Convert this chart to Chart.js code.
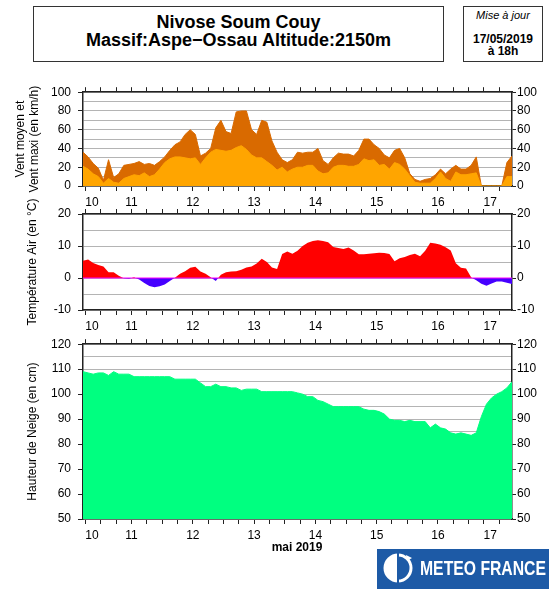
<!DOCTYPE html>
<html>
<head>
<meta charset="utf-8">
<script src="https://cdn.jsdelivr.net/npm/chart.js@4.4.0/dist/chart.umd.min.js"></script>
<style>
  body { margin: 0; width: 549px; height: 589px; position: relative; overflow: hidden; background: #fff;
         font-family: "Liberation Sans", Arial, sans-serif; color: #000; }
  canvas { position: absolute; left: 0; }
  .box { position: absolute; border: 1.5px solid #333; box-sizing: border-box; }
  .txt { position: absolute; line-height: 1; text-align: center; white-space: nowrap; }
</style>
</head>
<body>
<div class="box" style="left:33px;top:6px;width:411px;height:56px;"></div>
<div class="txt" style="left:33px;width:411px;top:12.8px;font-weight:bold;font-size:18px;">Nivose Soum Couy</div>
<div class="txt" style="left:33px;width:411px;top:31.3px;font-weight:bold;font-size:18px;">Massif:Aspe−Ossau Altitude:2150m</div>

<div class="box" style="left:463px;top:6px;width:80px;height:56px;"></div>
<div class="txt" style="left:463px;width:80px;top:10.3px;font-style:italic;font-size:11px;">Mise à jour</div>
<div class="txt" style="left:463px;width:80px;top:33.1px;font-weight:bold;font-size:12px;">17/05/2019</div>
<div class="txt" style="left:463px;width:80px;top:44.8px;font-weight:bold;font-size:12px;">à 18h</div>

<canvas id="chart-wind" width="549" height="132" style="top:78px"></canvas>
<canvas id="chart-temp" width="549" height="146" style="top:194px"></canvas>
<canvas id="chart-snow" width="549" height="215" style="top:330px"></canvas>

<div class="txt" style="left:247px;width:100px;top:540.8px;font-weight:bold;font-size:12px;">mai 2019</div>

<div style="position:absolute;left:377px;top:549px;width:172px;height:40px;background:#1d5aa6;">
  <svg width="40" height="40" style="position:absolute;left:2px;top:0">
    <circle cx="19" cy="19" r="13" fill="none" stroke="#fff" stroke-width="3"/>
    <path d="M19 6 A13 13 0 0 0 19 32 Z" fill="#fff"/>
    <line x1="19" y1="3" x2="19" y2="36" stroke="#1d5aa6" stroke-width="2"/>
    <path d="M27 6 L33 9 L28 12 Z" fill="#fff"/>
  </svg>
  <div class="txt" style="left:43px;top:8.2px;font-weight:bold;font-size:21px;color:#fff;text-align:left;transform:scaleX(0.75);transform-origin:0 0;">METEO FRANCE</div>
</div>

<script>
// time axis: hours since 10 May 00h, one value every 2 hours from 10 May 17h to 17 May 17h
const startHour = 17;
const endHour = 185;
const stepHours = 2;

const windMax = [36, 31, 24, 19, 6, 28, 9, 13, 22, 23, 24, 26, 23, 24, 22, 26, 31, 38, 44, 47,
  55, 60, 55, 32, 35, 40, 62, 70, 58, 56, 79, 80, 80, 60, 55, 70, 68, 48, 36, 28,
  25, 28, 36, 35, 36, 36, 40, 27, 23, 30, 35, 34, 34, 32, 38, 50, 50, 44, 40, 33,
  30, 38, 40, 30, 13, 7, 5, 7, 8, 12, 18, 13, 18, 22, 18, 18, 22, 31, 0, 0,
  0, 0, 0, 25, 32];

const windMean = [21, 18, 13, 10, 3, 8, 4, 3, 8, 10, 12, 11, 14, 10, 12, 18, 25, 29, 31, 31,
  30, 29, 30, 23, 30, 36, 39, 38, 37, 38, 41, 43, 39, 33, 30, 30, 26, 22, 17, 20,
  15, 18, 20, 20, 22, 22, 16, 13, 14, 20, 22, 22, 21, 21, 23, 29, 27, 28, 22, 23,
  18, 25, 23, 18, 11, 4, 3, 3, 3, 8, 15, 8, 5, 15, 12, 12, 13, 14, 0, 0,
  0, 0, 0, 10, 10];

const tempAir = [5.4, 5.8, 4.7, 4.1, 3.6, 1.8, 1.8, 0.7, -0.1, -0.2, 0.2, -0.5, -1.6, -2.5, -2.9, -2.6, -2.0, -0.9, 0.1, 1.3,
  2.1, 3.2, 3.5, 2.0, 1.3, 0.2, -0.9, 1.0, 1.8, 2.0, 2.1, 2.6, 3.3, 3.6, 4.5, 6.0, 5.0, 3.3, 2.8, 7.5,
  8.3, 7.6, 8.5, 10.0, 11.0, 11.6, 11.8, 11.6, 11.2, 9.7, 9.4, 9.1, 9.5, 8.6, 7.4, 7.4, 7.6, 7.7, 7.9, 7.8,
  7.5, 5.2, 6.2, 6.6, 7.2, 7.6, 6.8, 8.5, 11.0, 10.8, 10.4, 9.6, 8.6, 4.6, 3.2, 3.0, 0.2, -0.7, -1.8, -2.4,
  -1.7, -1.1, -1.1, -1.5, -1.9];

const snowDepth = [109, 108.5, 108, 108.5, 108.5, 107.5, 109, 108, 108, 108, 107, 107, 107, 107, 107, 107, 107, 107, 106, 106,
  106, 106, 106, 104.5, 103, 103, 104, 103, 103, 102.5, 102.5, 101.5, 102, 102, 102, 101, 101, 101, 101, 101,
  101, 101, 100.5, 100, 99, 99, 97.5, 97, 96, 95, 95, 95, 95, 95, 95, 94, 93.5, 93.5, 93, 92,
  90, 89.5, 89.5, 89, 89.5, 89, 89, 89, 86.5, 88, 86.5, 86, 84.5, 84, 84.5, 84, 83.5, 84.5, 91, 96,
  98.5, 100, 101, 102.5, 105];

const dayLabels = ['10', '11', '12', '13', '14', '15', '16', '17'];
const dayLabelHours = [20.5, 36, 60, 84, 108, 132, 156, 176.5];
const tickHours = [18, 24, 30, 36, 42, 48, 54, 60, 66, 72, 78, 84, 90, 96, 102, 108, 114, 120,
  126, 132, 138, 144, 150, 156, 162, 168, 174, 180];

Chart.defaults.font.family = '"Liberation Sans", Arial, sans-serif';
Chart.defaults.font.size = 12;
Chart.defaults.color = '#000';

const frame = { display: true, color: '#222', width: 1.5 };
const allXTicks = Array.from(new Set(tickHours.concat(dayLabelHours))).sort((a, b) => a - b);

function toPoints(values) {
    return values.map((v, i) => ({ x: startHour + i * stepHours, y: v }));
}

function xScales(topH, bottomH) {
    return {
        x: {
            type: 'linear', position: 'bottom', min: startHour, max: endHour,
            afterBuildTicks: s => { s.ticks = allXTicks.map(v => ({ value: v })); },
            afterFit: s => { s.height = bottomH; },
            ticks: {
                autoSkip: false, maxRotation: 0, padding: 4,
                callback: v => { const k = dayLabelHours.indexOf(v); return k < 0 ? '' : dayLabels[k]; }
            },
            grid: {
                drawOnChartArea: false, tickLength: 5,
                tickColor: c => (c.tick && tickHours.includes(c.tick.value)) ? '#222' : 'rgba(0,0,0,0)'
            },
            border: frame
        },
        xt: {
            type: 'linear', position: 'top', min: startHour, max: endHour,
            afterBuildTicks: s => { s.ticks = tickHours.map(v => ({ value: v })); },
            afterFit: s => { s.height = topH; },
            ticks: { display: false },
            grid: { drawOnChartArea: false, tickLength: 5, tickColor: '#222' },
            border: frame
        }
    };
}

function yScale(position, min, max, step, labelStep, title, titlePad) {
    const left = position === 'left';
    return {
        type: 'linear', position: position, min: min, max: max,
        afterFit: s => { s.width = left ? 83 : 37; },
        ticks: {
            stepSize: step, autoSkip: false, padding: left ? 7 : 1,
            callback: v => (v % labelStep === 0 ? v : '')
        },
        grid: {
            drawOnChartArea: left, color: '#b4b4b4', tickLength: left ? 5 : 4,
            tickColor: c => (c.tick && c.tick.value % labelStep === 0) ? '#222' : 'rgba(0,0,0,0)'
        },
        border: frame,
        title: {
            display: left && !!title, text: title, color: '#000',
            font: { size: 12, lineHeight: 1.1 }, padding: { top: titlePad, bottom: 0 }
        }
    };
}

function baseOptions(scales) {
    return {
        responsive: false, animation: false, devicePixelRatio: 1,
        layout: { autoPadding: false, padding: 0 },
        plugins: { legend: { display: false }, tooltip: { enabled: false } },
        elements: { point: { radius: 0 }, line: { tension: 0 } },
        scales: scales
    };
}

// wind
new Chart(document.getElementById('chart-wind'), {
    type: 'line',
    data: {
        datasets: [
            { label: 'Vent moyen', data: toPoints(windMean), fill: 'origin',
              backgroundColor: '#ffa500', borderColor: '#ffa500', borderWidth: 1 },
            { label: 'Vent maxi', data: toPoints(windMax), fill: 'origin',
              backgroundColor: '#d96a00', borderColor: '#d96a00', borderWidth: 1 }
        ]
    },
    options: baseOptions(Object.assign(xScales(11, 24), {
        y: yScale('left', 0, 100, 10, 20, ['Vent moyen et', 'Vent maxi (en km/h)'], 14.5),
        y2: yScale('right', 0, 100, 10, 20)
    }))
});

// temperature
const zeroLine = {
    id: 'zeroLine',
    afterDatasetsDraw(chart) {
        const { ctx, chartArea, scales } = chart;
        const y = scales.y.getPixelForValue(0);
        ctx.save();
        ctx.strokeStyle = '#ff00ff';
        ctx.lineWidth = 1;
        ctx.beginPath();
        ctx.moveTo(chartArea.left, y);
        ctx.lineTo(chartArea.right, y);
        ctx.stroke();
        ctx.restore();
    }
};

new Chart(document.getElementById('chart-temp'), {
    type: 'line',
    data: {
        datasets: [
            { label: 'Température', data: toPoints(tempAir),
              fill: { target: 'origin', above: '#ff0000', below: '#4600ff' },
              borderColor: 'rgba(0,0,0,0)', borderWidth: 1 }
        ]
    },
    options: baseOptions(Object.assign(xScales(20, 30), {
        y: yScale('left', -10, 20, 5, 10, 'Température Air (en °C)', 26.4),
        y2: yScale('right', -10, 20, 5, 10)
    })),
    plugins: [zeroLine]
});

// snow depth
new Chart(document.getElementById('chart-snow'), {
    type: 'line',
    data: {
        datasets: [
            { label: 'Hauteur de neige', data: toPoints(snowDepth), fill: 'start',
              backgroundColor: '#00ff80', borderColor: '#00ff80', borderWidth: 1 }
        ]
    },
    options: baseOptions(Object.assign(xScales(9, 26), {
        y: yScale('left', 50, 120, 5, 10, 'Hauteur de Neige (en cm)', 26.4),
        y2: yScale('right', 50, 120, 5, 10)
    }))
});
</script>
</body>
</html>
